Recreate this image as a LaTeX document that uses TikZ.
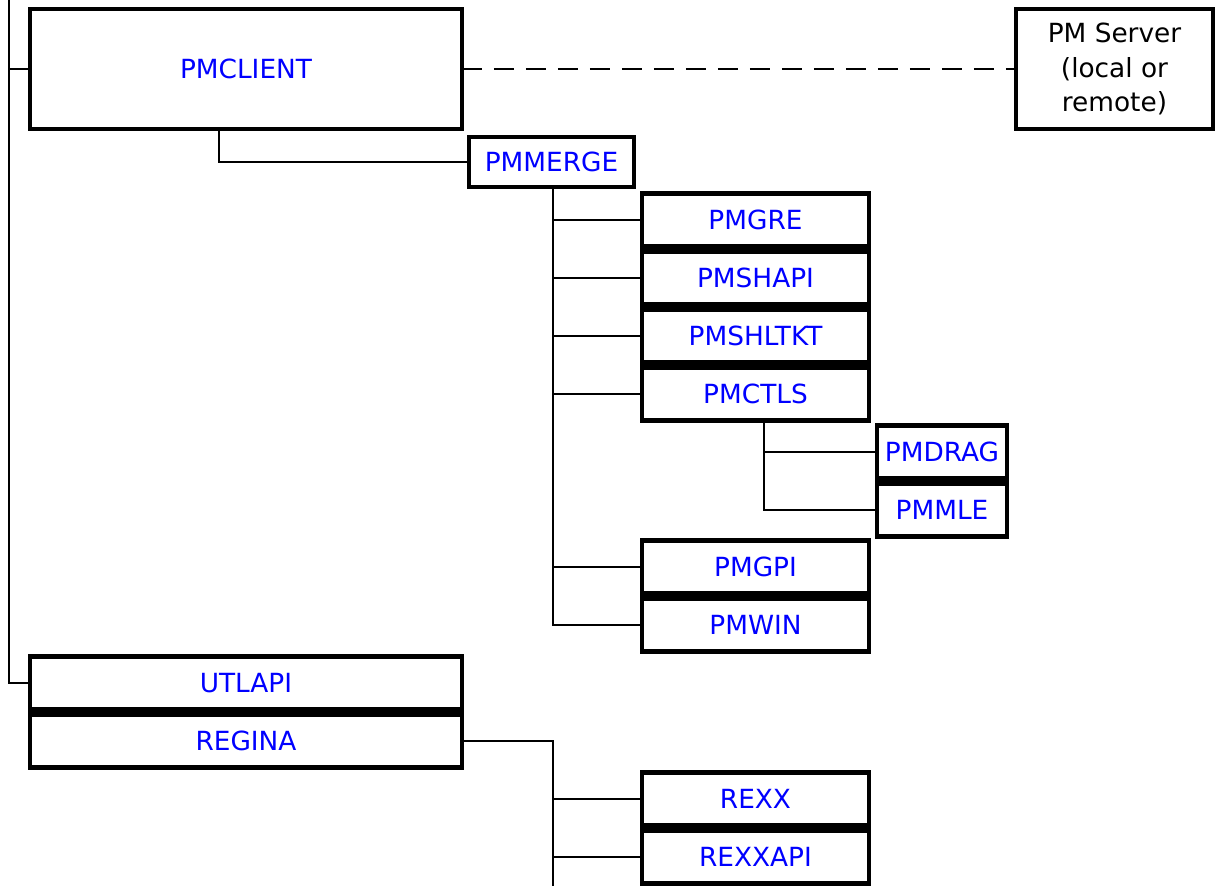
\documentclass[tikz,border=0pt]{standalone}
\usepackage{fontspec}
\setmainfont{DejaVu Sans}
\usetikzlibrary{positioning,calc}

\tikzset{
    modbox/.style={draw, line width=2.6pt, text=blue, inner sep=0pt, outer sep=0pt,
        minimum height=1.05cm, font=\fontsize{15}{18}\selectfont},
    wire/.style={line width=0.85pt}
}

\begin{document}
\begin{tikzpicture}[x=0.02cm, y=-0.02cm]
    \useasboundingbox (0,0) rectangle (1221,886);

    % Top level
    \node [modbox, minimum width=8.64cm, minimum height=2.4cm] (pmclient) at (246,69) {PMCLIENT};
    \node [modbox, text=black, minimum width=3.94cm, minimum height=2.4cm, align=center,
        font=\fontsize{15}{19.6}\selectfont] (pmserver) at (1114.5,69) {PM Server\\(local or\\remote)};
    \node [modbox, minimum width=3.3cm, minimum height=1.0cm] (pmmerge) at (551.5,162) {PMMERGE};

    % PMMERGE children
    \foreach \y/\name/\label in {220/pmgre/PMGRE, 278/pmshapi/PMSHAPI, 336/pmshltkt/PMSHLTKT,
        394/pmctls/PMCTLS, 567/pmgpi/PMGPI, 625/pmwin/PMWIN} {
        \node [modbox, minimum width=4.54cm] (\name) at (755.5,\y) {\label};
    }

    % PMCTLS children
    \node [modbox, minimum width=2.6cm] (pmdrag) at (942,452) {PMDRAG};
    \node [modbox, minimum width=2.6cm] (pmmle) at (942,510) {PMMLE};

    % Lower modules
    \node [modbox, minimum width=8.64cm] (utlapi) at (246,683) {UTLAPI};
    \node [modbox, minimum width=8.64cm] (regina) at (246,741) {REGINA};
    \node [modbox, minimum width=4.54cm] (rexx) at (755.5,799) {REXX};
    \node [modbox, minimum width=4.54cm] (rexxapi) at (755.5,857) {REXXAPI};

    % Connectors
    \coordinate (trunk) at (9,0);
    \draw [wire] (trunk) |- (utlapi.west);
    \draw [wire] (pmclient.west) -- (pmclient.west -| trunk);
    \draw [wire, dash pattern=on 0.4cm off 0.24cm] (pmclient.east) -- (pmserver.west);
    \draw [wire] ([xshift=-0.54cm]pmclient.south) |- (pmmerge.west);
    \foreach \name in {pmgre, pmshapi, pmshltkt, pmctls, pmgpi, pmwin} {
        \draw [wire] ([xshift=0.03cm]pmmerge.south) |- (\name.west);
    }
    \foreach \name in {pmdrag, pmmle} {
        \draw [wire] ([xshift=0.17cm]pmctls.south) |- (\name.west);
    }
    \coordinate (rexxbus) at (553,741);
    \coordinate (rexxend) at (553,886);
    \draw [wire] (regina.east) -- (rexxbus) -- (rexxend);
    \foreach \name in {rexx, rexxapi} {
        \draw [wire] (rexxbus) |- (\name.west);
    }
\end{tikzpicture}
\end{document}
